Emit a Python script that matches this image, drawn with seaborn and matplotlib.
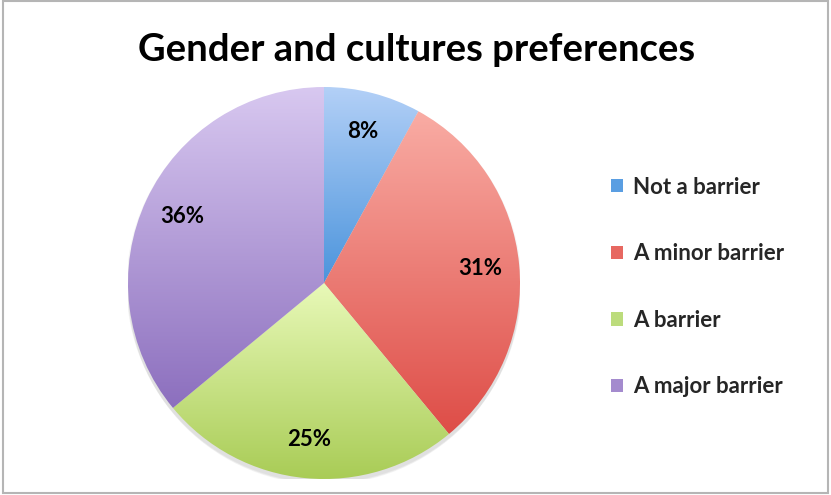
import numpy as np
import matplotlib
matplotlib.use("Agg")
import matplotlib.pyplot as plt
from matplotlib.colors import LinearSegmentedColormap
from matplotlib.patches import Patch, Rectangle, Circle
import seaborn as sns

# Survey answers on gender and culture preferences
categories = ["Not a barrier", "A minor barrier", "A barrier", "A major barrier"]
shares = [8, 31, 25, 36]

# light (top) and dark (bottom) shade for each slice's gradient fill
top_colors = ["#b3d0f7", "#f9aca4", "#e8f9b8", "#d8c8f0"]
bottom_colors = ["#4b94dc", "#de4d47", "#a9cc56", "#8c6fbe"]
legend_colors = ["#5a9ee2", "#e76861", "#bcdc7c", "#a48bce"]

sns.set_theme(style="white")
plt.rcParams["font.family"] = ["Lato", "DejaVu Sans"]

fig = plt.figure(figsize=(8.31, 4.95), dpi=100)
fig.patch.set_facecolor("white")

R_PX = 196
cx, cy = 324, 283
ax = fig.add_axes([(cx - R_PX) / 831, (495 - cy - R_PX) / 495,
                   2 * R_PX / 831, 2 * R_PX / 495])
ax.set_axis_off()

# faint drop shadow under the pie
for k, a in enumerate([0.05, 0.05, 0.06]):
    ax.add_patch(Circle((0.0, -0.012 - 0.008 * k), 1.0 + 0.004 * (2 - k),
                        facecolor="#404040", alpha=a, edgecolor="none", zorder=0))

wedges, texts, autotexts = ax.pie(
    shares, startangle=90, counterclock=False, radius=1.0,
    colors=bottom_colors, autopct=lambda p: f"{p:.0f}%", pctdistance=0.8,
    wedgeprops=dict(linewidth=0, edgecolor="none"),
    textprops=dict(fontsize=16, fontweight="bold", color="black"),
)

for w, c_top, c_bot in zip(wedges, top_colors, bottom_colors):
    path = w.get_patch_transform().transform_path(w.get_path())
    bb = path.get_extents()
    cmap = LinearSegmentedColormap.from_list("g", [c_bot, c_top])
    grad = np.linspace(0, 1, 256).reshape(-1, 1)
    im = ax.imshow(grad, cmap=cmap, origin="lower", aspect="auto",
                   extent=(bb.x0, bb.x1, bb.y0, bb.y1), zorder=1,
                   interpolation="bilinear")
    im.set_clip_path(w)
    w.set_facecolor("none")
    w.set_zorder(2)

for t in autotexts:
    t.set_zorder(5)

ax.set_xlim(-1, 1)
ax.set_ylim(-1, 1)
ax.set_aspect("auto")

fig.text(417 / 831, 1 - 50 / 495, "Gender and cultures preferences",
         ha="center", va="center", fontsize=27.5, fontweight="bold", color="black")

handles = [Patch(facecolor=c, edgecolor="none") for c in legend_colors]
fig.legend(handles, categories, loc="center left",
           bbox_to_anchor=(591 / 831, 1 - 287 / 495), frameon=False,
           prop=dict(weight="bold", size=16),
           handlelength=0.55, handleheight=0.55, handletextpad=0.45,
           labelspacing=2.05)

# chart border
fig.add_artist(Rectangle((0.004, 0.004), 0.992, 0.993, transform=fig.transFigure,
                         facecolor="none", edgecolor="#b5b5b5", linewidth=1.5))

fig.savefig("out.png", dpi=100, facecolor="white")
